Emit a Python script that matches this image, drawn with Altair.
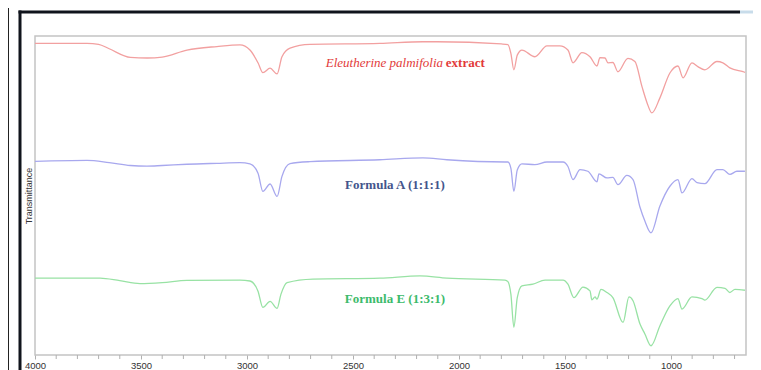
import altair as alt
import pandas as pd

# ---- data (wavenumber cm-1, relative transmittance units) ----
red_wn = [4000, 3755, 3700, 3650, 3550, 3470, 3400, 3283, 3142, 3033, 2986, 2948, 2925, 2891,
          2858, 2835, 2797, 2703, 2373, 2170, 2104, 1800, 1769, 1755, 1741, 1725, 1703, 1642,
          1585, 1524, 1486, 1462, 1420, 1382, 1349, 1335, 1311, 1297, 1274, 1250, 1203, 1170,
          1137, 1113, 1090, 1052, 1005, 967, 943, 901, 873, 840, 783, 755, 722, 660, 650]
red_t = [97.7, 97.7, 97.4, 96.0, 93.3, 93.1, 93.4, 95.6, 96.7, 97.2, 95.6, 91.6, 88.5, 89.9,
         88.1, 93.5, 96.2, 97.4, 97.7, 98.2, 98.2, 97.5, 97.3, 94.5, 89.4, 94.0, 95.6, 93.5,
         96.9, 96.9, 95.6, 91.6, 94.8, 93.5, 90.6, 93.2, 93.1, 91.6, 91.7, 88.8, 93.0, 92.0,
         84.2, 79.1, 75.9, 80.6, 88.4, 90.6, 86.9, 91.6, 90.4, 89.4, 92.0, 91.6, 90.0, 88.8, 88.6]

blue_wn = [4000, 3755, 3650, 3550, 3472, 3400, 3283, 3142, 3033, 2986, 2948, 2925, 2891, 2858,
           2835, 2797, 2703, 2373, 2170, 2057, 1783, 1769, 1755, 1741, 1725, 1703, 1642, 1585,
           1509, 1486, 1462, 1429, 1392, 1349, 1340, 1302, 1274, 1250, 1208, 1179, 1146, 1123,
           1094, 1052, 1005, 967, 948, 901, 877, 840, 783, 755, 722, 689, 651]
blue_t = [60.7, 61.0, 60.3, 59.4, 59.2, 59.4, 59.8, 60.1, 60.3, 59.9, 57.0, 51.3, 53.6, 49.7,
          56.0, 60.0, 60.6, 61.2, 61.8, 61.2, 60.5, 60.5, 58.5, 51.3, 58.0, 59.9, 59.7, 60.5,
          60.5, 59.1, 55.0, 58.1, 57.6, 54.3, 56.8, 55.5, 55.7, 53.4, 56.3, 55.0, 46.3, 42.0,
          38.3, 46.7, 52.9, 55.0, 50.8, 55.3, 54.0, 53.7, 58.1, 58.1, 56.6, 57.6, 57.6]

green_wn = [4000, 3693, 3600, 3505, 3400, 3283, 3033, 2986, 2948, 2925, 2891, 2858, 2840, 2811,
            2689, 2373, 2184, 2057, 1783, 1769, 1755, 1741, 1725, 1703, 1651, 1594, 1509, 1486,
            1458, 1415, 1382, 1373, 1358, 1349, 1330, 1302, 1274, 1226, 1198, 1179, 1146, 1123,
            1094, 1052, 1005, 967, 948, 901, 854, 840, 783, 745, 722, 698, 651]
green_t = [24.1, 24.1, 23.3, 22.4, 22.7, 23.4, 23.5, 23.2, 20.0, 14.9, 16.8, 14.6, 19.0, 22.7,
           23.8, 24.1, 24.8, 24.1, 23.5, 23.0, 19.0, 8.7, 18.0, 21.7, 22.2, 23.5, 23.5, 22.2,
           18.0, 21.3, 20.1, 17.3, 18.2, 17.5, 20.6, 19.6, 18.0, 10.2, 18.2, 17.0, 9.7, 6.6,
           2.9, 9.2, 15.4, 17.7, 14.4, 18.2, 17.7, 17.2, 21.2, 20.9, 19.6, 20.6, 20.3]

series_names = ["Eleutherine palmifolia extract", "Formula A (1:1:1)", "Formula E (1:3:1)"]
line_colors = ["#f2a0a0", "#a8a8ee", "#98e2a4"]

major_ticks = [4000, 3500, 3000, 2500, 2000, 1500, 1000]
minor_ticks = [3900, 3800, 3700, 3600, 3400, 3300, 3200, 3100, 2900, 2800, 2700, 2600,
               2400, 2300, 2200, 2100, 1900, 1800, 1700, 1600, 1400, 1300, 1200, 1100,
               900, 800, 700]

label_texts = ["Eleutherine palmifolia", "extract", "Formula A (1:1:1)", "Formula E (1:3:1)"]
label_wn = [2075, 2062, 2302, 2302]
label_t = [91.5, 91.5, 53.4, 17.5]
label_colors = ["#e23a3a", "#e23a3a", "#44558c", "#3dbb6c"]

rows = []
for name, wns, ts in zip(series_names, [red_wn, blue_wn, green_wn], [red_t, blue_t, green_t]):
    rows += [{"series": name, "wn": w, "t": t} for w, t in zip(wns, ts)]
df = pd.DataFrame(rows)

H = 319
x_scale = alt.Scale(domain=[646, 4000], reverse=True, nice=False, zero=False)
y_scale = alt.Scale(domain=[0, 100], nice=False, zero=False)

lines = alt.Chart(df).mark_line(strokeWidth=1.3, interpolate="monotone").encode(
    x=alt.X("wn:Q", scale=x_scale,
            axis=alt.Axis(values=major_ticks, title=None, grid=False, domain=False,
                          format="d", labelOverlap=False, labelBound=False, labelFlush=False,
                          tickSize=4, tickColor="#b0b0b0", tickWidth=1,
                          labelFont="Liberation Sans", labelFontSize=9.5, labelColor="#333333",
                          labelPadding=1)),
    y=alt.Y("t:Q", scale=y_scale,
            axis=alt.Axis(title="Transmittance", labels=False, ticks=False, domain=False,
                          grid=False, titleFont="Liberation Sans", titleFontSize=9,
                          titleFontWeight="normal", titleColor="#333333", titlePadding=2)),
    color=alt.Color("series:N", scale=alt.Scale(domain=series_names, range=line_colors), legend=None),
)

minor = alt.Chart(pd.DataFrame({"wn": minor_ticks})).mark_rule(
    color="#b0b0b0", strokeWidth=1).encode(
    x=alt.X("wn:Q", scale=x_scale), y=alt.value(H), y2=alt.value(H + 4))

ldf = pd.DataFrame({"text": label_texts, "wn": label_wn, "t": label_t})

def text_layer(i, align, style, weight):
    return alt.Chart(ldf.iloc[[i]]).mark_text(
        align=align, baseline="middle", font="Liberation Serif", fontSize=13,
        fontStyle=style, fontWeight=weight, color=label_colors[i]
    ).encode(x=alt.X("wn:Q", scale=x_scale), y=alt.Y("t:Q", scale=y_scale), text="text:N")

texts = [
    text_layer(0, "right", "italic", "normal"),
    text_layer(1, "left", "normal", "bold"),
    text_layer(2, "center", "normal", "bold"),
    text_layer(3, "center", "normal", "bold"),
]

one = alt.Data(values=[{"k": 1}])
frame_thin = alt.Chart(one).mark_rule(color="#222222", strokeWidth=1).encode(
    x=alt.value(-26.5), y=alt.value(-30), y2=alt.value(340))
frame_left = alt.Chart(one).mark_rule(color="#10141c", strokeWidth=3).encode(
    x=alt.value(-15), y=alt.value(-25.5), y2=alt.value(340))
frame_top = alt.Chart(one).mark_rule(color="#10141c", strokeWidth=3).encode(
    x=alt.value(-16.5), x2=alt.value(705), y=alt.value(-24))
frame_top2 = alt.Chart(one).mark_rule(color="#c8dcea", strokeWidth=3).encode(
    x=alt.value(705), x2=alt.value(720), y=alt.value(-24))

chart = alt.layer(frame_thin, frame_left, frame_top, frame_top2, lines, minor, *texts).properties(
    width=711, height=H,
    autosize=alt.AutoSizeParams(type="none"),
    padding={"left": 27, "top": 28, "right": 7, "bottom": 15},
    background="white",
).configure_view(stroke="#c4c4c4", strokeWidth=1.5)

chart.save("out.html", embed_options={"renderer": "svg", "actions": False})
